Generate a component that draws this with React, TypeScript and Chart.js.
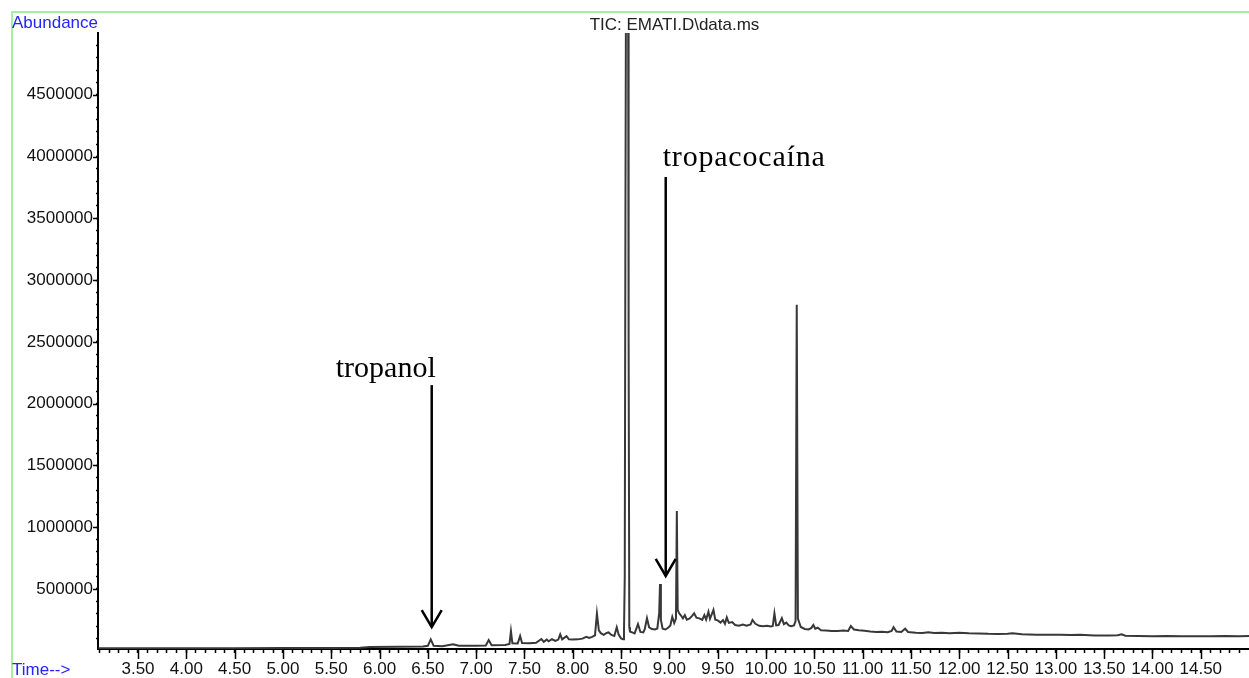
import React, { useEffect, useRef } from 'react';
import { Chart, registerables } from 'chart.js';

Chart.register(...registerables);

// Retention time (min)
const times = [
  3.09, 3.5, 4.0, 4.5, 5.0, 5.5, 5.8, 5.9, 6.2, 6.45,
  6.5, 6.53, 6.56, 6.65, 6.76, 6.82, 7.0, 7.1, 7.13, 7.16,
  7.3, 7.345, 7.36, 7.375, 7.43, 7.455, 7.475, 7.55, 7.62, 7.675,
  7.7, 7.73, 7.75, 7.785, 7.82, 7.85, 7.87, 7.89, 7.935, 7.96,
  8.0, 8.05, 8.1, 8.14, 8.17, 8.2, 8.23, 8.25, 8.27, 8.29,
  8.32, 8.35, 8.37, 8.4, 8.43, 8.455, 8.475, 8.5, 8.52, 8.53,
  8.538, 8.545, 8.552, 8.572, 8.578, 8.585, 8.592, 8.61, 8.64, 8.675,
  8.7, 8.73, 8.745, 8.768, 8.79, 8.82, 8.85, 8.875, 8.894, 8.903,
  8.912, 8.93, 8.96, 8.99, 9.01, 9.03, 9.05, 9.068, 9.077, 9.086,
  9.1, 9.12, 9.14, 9.16, 9.18, 9.21, 9.235, 9.256, 9.28, 9.31,
  9.34, 9.362, 9.38, 9.404, 9.42, 9.456, 9.475, 9.5, 9.53, 9.555,
  9.575, 9.594, 9.615, 9.65, 9.68, 9.72, 9.76, 9.8, 9.84, 9.86,
  9.89, 9.93, 9.97, 10.01, 10.05, 10.07, 10.087, 10.105, 10.13, 10.164,
  10.185, 10.21, 10.235, 10.26, 10.29, 10.306, 10.318, 10.33,
  10.36, 10.4, 10.44, 10.47, 10.49, 10.51, 10.535, 10.57, 10.62, 10.68,
  10.74, 10.8, 10.85, 10.878, 10.91, 10.96, 11.02, 11.08, 11.14, 11.2,
  11.26, 11.3, 11.32, 11.35, 11.4, 11.44, 11.47, 11.55, 11.62, 11.68,
  11.74, 11.82, 11.9, 12.0, 12.1, 12.2, 12.3, 12.4, 12.5, 12.55,
  12.65, 12.8, 12.95, 13.05, 13.15, 13.25, 13.4, 13.55, 13.64, 13.68,
  13.72, 13.85, 14.0, 14.15, 14.3, 14.45, 14.6, 14.75, 14.9, 15.0,
];

// Total ion current abundance
const abundance = [
  20000, 20000, 21000, 21000, 22000, 23000, 25000, 31000, 32000, 34000,
  40000, 92000, 40000, 37000, 52000, 40000, 41000, 43000, 87000, 45000,
  47000, 55000, 158000, 60000, 58000, 119000, 62000, 60000, 65000, 95000,
  72000, 90000, 76000, 93000, 80000, 90000, 133000, 92000, 118000, 92000,
  90000, 92000, 98000, 112000, 103000, 112000, 125000, 300000, 165000, 142000,
  128000, 145000, 148000, 128000, 120000, 190000, 130000, 100000, 92000, 150000,
  600000, 3500000, 5800000, 5800000, 2500000, 190000, 155000, 150000, 140000, 216000,
  152000, 148000, 175000, 263000, 190000, 175000, 172000, 180000, 300000, 540000,
  250000, 178000, 172000, 188000, 205000, 275000, 225000, 260000, 1130000, 330000,
  305000, 285000, 262000, 288000, 252000, 262000, 282000, 303000, 268000, 262000,
  250000, 289000, 252000, 316000, 258000, 330000, 252000, 246000, 228000, 248000,
  218000, 270000, 225000, 232000, 208000, 203000, 212000, 202000, 212000, 249000,
  218000, 202000, 198000, 203000, 197000, 200000, 303000, 205000, 208000, 263000,
  215000, 228000, 205000, 198000, 205000, 240000, 2800000, 260000,
  192000, 176000, 172000, 185000, 208000, 178000, 186000, 166000, 163000, 160000,
  159000, 163000, 160000, 200000, 172000, 166000, 162000, 156000, 152000, 154000,
  150000, 160000, 190000, 155000, 152000, 178000, 152000, 146000, 144000, 150000,
  143000, 146000, 142000, 145000, 141000, 140000, 137000, 136000, 138000, 141000,
  133000, 130000, 129000, 130000, 128000, 129000, 124000, 123000, 126000, 133000,
  122000, 119000, 118000, 119000, 117000, 117000, 118000, 120000, 118000, 119000,
];

// Axis ranges and ticks
const xRange = [3.086, 14.999];
const xMinorStep = 0.1;
const xLabelStep = 0.5;
const yRange = [14000, 5000000];
const yMinorStep = 100000;
const yLabelStep = 500000;

// Texts
const chartTitle = 'TIC: EMATI.D\\data.ms';
const yAxisTitle = 'Abundance';
const xAxisTitle = 'Time-->';

// Annotated compounds: label, time of the arrow, arrow top and arrow tip (abundance)
const annotationLabels = ['tropanol', 'tropacocaína'];
const annotationTimes = [6.54, 8.962];
const annotationTops = [2150000, 3834000];
const annotationTips = [192000, 605000];

const SANS = '"Liberation Sans", Arial, sans-serif';
const SERIF = '"Liberation Serif", "Times New Roman", serif';

const isMajor = (v: number, step: number, minor: number) =>
  Math.round(v / minor) % Math.round(step / minor) === 0;

// tick values on multiples of the step inside the scale range
const stepTicks = (scale: any, step: number) => {
  const out: { value: number }[] = [];
  const first = Math.ceil(scale.min / step - 1e-9);
  const last = Math.floor(scale.max / step + 1e-9);
  for (let k = first; k <= last; k++) {
    const v = Math.round(k * step * 1000) / 1000;
    if (v > scale.min && v < scale.max) out.push({ value: v });
  }
  scale.ticks = out;
};

const decorPlugin = {
  id: 'decor',
  afterDraw(chart: any) {
    const { ctx, chartArea } = chart;
    const xs = chart.scales.x;
    const ys = chart.scales.y;
    ctx.save();

    // green frame
    ctx.strokeStyle = '#a6eea6';
    ctx.lineWidth = 2;
    ctx.beginPath();
    ctx.moveTo(12, chart.height + 10);
    ctx.lineTo(12, 12);
    ctx.lineTo(chart.width + 10, 12);
    ctx.stroke();

    // longer major ticks
    ctx.strokeStyle = '#000';
    ctx.lineWidth = 1.5;
    xs.ticks.forEach((t: any) => {
      if (isMajor(t.value, xLabelStep, xMinorStep)) {
        const px = Math.round(xs.getPixelForValue(t.value)) + 0.5;
        ctx.beginPath();
        ctx.moveTo(px, chartArea.bottom);
        ctx.lineTo(px, chartArea.bottom + 10);
        ctx.stroke();
      }
    });
    ys.ticks.forEach((t: any) => {
      if (isMajor(t.value, yLabelStep, yMinorStep)) {
        const py = Math.round(ys.getPixelForValue(t.value)) + 0.5;
        ctx.beginPath();
        ctx.moveTo(chartArea.left, py);
        ctx.lineTo(chartArea.left - 5, py);
        ctx.stroke();
      }
    });

    // axis titles and chart title
    ctx.textBaseline = 'alphabetic';
    ctx.font = `17px ${SANS}`;
    ctx.fillStyle = '#2424ff';
    ctx.textAlign = 'left';
    ctx.fillText(yAxisTitle, 12, 28);
    ctx.fillText(xAxisTitle, 12, 675);
    ctx.fillStyle = '#222';
    ctx.textAlign = 'center';
    ctx.fillText(chartTitle, (chartArea.left + chartArea.right) / 2 + 1, 30);

    // annotations
    annotationLabels.forEach((label, i) => {
      const ax = xs.getPixelForValue(annotationTimes[i]);
      const top = ys.getPixelForValue(annotationTops[i]);
      const tip = ys.getPixelForValue(annotationTips[i]);
      ctx.strokeStyle = '#000';
      ctx.lineWidth = 2.5;
      ctx.beginPath();
      ctx.moveTo(ax, top);
      ctx.lineTo(ax, tip);
      ctx.stroke();
      ctx.beginPath();
      ctx.moveTo(ax - 10, tip - 17);
      ctx.lineTo(ax, tip);
      ctx.lineTo(ax + 10, tip - 17);
      ctx.stroke();
      ctx.font = `30px ${SERIF}`;
      ctx.fillStyle = '#000';
      if (i === 0) {
        ctx.textAlign = 'right';
        ctx.fillText(label, ax + 4, top - 8);
      } else {
        ctx.textAlign = 'left';
        (ctx as any).letterSpacing = '0.8px';
        ctx.fillText(label, ax - 3, top - 11);
        (ctx as any).letterSpacing = '0px';
      }
    });
    ctx.restore();
  },
};

export default function App() {
  const canvasRef = useRef<HTMLCanvasElement | null>(null);

  useEffect(() => {
    if (!canvasRef.current) return;
    const points = times.map((t, i) => ({ x: t, y: abundance[i] }));
    const chart = new Chart(canvasRef.current, {
      type: 'line',
      data: {
        datasets: [
          {
            data: points,
            borderColor: '#383838',
            borderWidth: 2,
            pointRadius: 0,
            tension: 0,
            fill: false,
            clip: 0,
          } as any,
        ],
      },
      options: {
        responsive: false,
        animation: false,
        events: [],
        layout: { padding: { top: 33, left: 0, right: 0, bottom: 0 } },
        plugins: { legend: { display: false }, tooltip: { enabled: false }, title: { display: false } },
        scales: {
          x: {
            type: 'linear',
            position: 'bottom',
            min: xRange[0],
            max: xRange[1],
            afterBuildTicks: (s: any) => stepTicks(s, xMinorStep),
            afterFit: (s: any) => { s.height = 29; },
            border: { display: true, color: '#000', width: 2 },
            grid: { drawOnChartArea: false, drawTicks: true, tickLength: 4, tickColor: '#000', tickWidth: 1.5 },
            ticks: {
              autoSkip: false,
              maxRotation: 0,
              minRotation: 0,
              padding: 6,
              color: '#111',
              font: { family: SANS, size: 17 },
              callback: (v: any) => (isMajor(Number(v), xLabelStep, xMinorStep) ? Number(v).toFixed(2) : ''),
            },
          },
          y: {
            type: 'linear',
            position: 'left',
            min: yRange[0],
            max: yRange[1],
            afterBuildTicks: (s: any) => stepTicks(s, yMinorStep),
            afterFit: (s: any) => { s.width = 98; },
            border: { display: true, color: '#000', width: 2 },
            grid: { drawOnChartArea: false, drawTicks: true, tickLength: 2, tickColor: '#000', tickWidth: 1.5 },
            ticks: {
              autoSkip: false,
              padding: 3,
              color: '#111',
              font: { family: SANS, size: 17 },
              callback: (v: any) => (isMajor(Number(v), yLabelStep, yMinorStep) ? String(v) : ''),
            },
          },
        },
      },
      plugins: [decorPlugin],
    });
    return () => chart.destroy();
  }, []);

  return (
    <div style={{ position: 'fixed', left: 0, top: 0, width: 1249, height: 678, background: '#fff', overflow: 'hidden' }}>
      <canvas ref={canvasRef} width={1249} height={678} style={{ display: 'block' }} />
    </div>
  );
}
